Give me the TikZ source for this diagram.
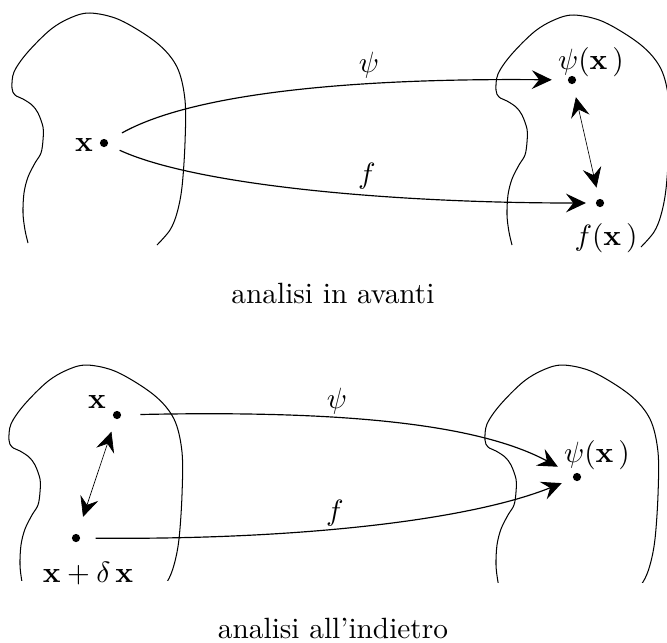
\documentclass[tikz,border=0pt]{standalone}
\usetikzlibrary{arrows.meta}
\tikzset{
  blobline/.style={line width=0.35pt},
  dot/.style={circle,fill=black,inner sep=0pt,minimum size=2.8pt},
  lab/.style={inner sep=0pt},
  bigtip/.tip={Stealth[length=6.8pt,width=6.4pt,inset=2.5pt]},
  maparrow/.style={line width=0.4pt,-bigtip},
  errarrow/.style={line width=0.22pt,bigtip-bigtip},
  blob/.pic={
    \draw[blobline] plot[smooth,tension=0.55] coordinates {
      (28,243) (25,230) (23,213) (24,193) (28,177) (35,163) (41,153) (43,140)
      (43,127) (38,113) (32,105) (23,99) (15,95) (12,88) (14,72) (27,53)
      (50,30) (70,18) (90,13) (120,20) (157,43) (177,67)
      (185,100) (185,143) (182,187) (177,213) (170,230) (157,245)};
  }
}
\begin{document}
\begin{tikzpicture}[x=0.341pt,y=-0.341pt]
\useasboundingbox (0,0) rectangle (667,642);

% regions
\pic at (0,0) {blob};
\pic at (484,2) {blob};
\begin{scope}
  \clip (-10,352) rectangle (700,580);
  \pic at (-3,352) {blob};
\end{scope}
\begin{scope}
  \clip (-10,352) rectangle (700,582);
  \pic at (473,352) {blob};
\end{scope}

% ---- top: analisi in avanti ----
\node[dot] (xT) at (104,143) {};
\node[lab] (xTl) at (84,145) {$\mathbf{x}$};
\node[dot] (psiT) at (572,80) {};
\node[lab] (psiTl) at (591,62) {$\psi(\mathbf{x}\,)$};
\node[dot] (fT) at (600,203) {};
\node[lab] (fTl) at (606,238) {$f(\mathbf{x}\,)$};

\draw[maparrow,shorten <=5.4pt,shorten >=5.3pt] (xT) .. controls (195,92) and (360,78) .. (psiT);
\draw[maparrow,shorten <=4.3pt,shorten >=3.2pt] (xT) .. controls (195,185) and (390,203) .. (fT);
\draw[errarrow,shorten <=4.4pt,shorten >=3.8pt] (psiT) -- (fT);

\node[lab] (psiTa) at (369,65) {$\psi$};
\node[lab] (fTa) at (367,176) {$f$};

\node (capT) at (333,293) {analisi in avanti};

% ---- bottom: analisi all'indietro ----
\node[dot] (xB) at (117,415) {};
\node[lab] (xBl) at (97,402) {$\mathbf{x}$};
\node[dot] (xdB) at (76,538) {};
\node[lab] (xdBl) at (88,574) {$\mathbf{x}+\delta\,\mathbf{x}$};
\node[dot] (psiB) at (577,477) {};
\node[lab] (psiBl) at (597,455) {$\psi(\mathbf{x}\,)$};

\draw[maparrow,shorten <=6.4pt,shorten >=5.8pt] (xB) .. controls (350,410) and (480,425) .. (psiB);
\draw[maparrow,shorten <=5.1pt,shorten >=4pt] (xdB) .. controls (300,540) and (470,520) .. (psiB);
\draw[errarrow,shorten <=4.4pt,shorten >=6pt] (xB) -- (xdB);

\node[lab] (psiBa) at (337,401) {$\psi$};
\node[lab] (fBa) at (335,513) {$f$};

\node (capB) at (333,628) {analisi all'indietro};
\end{tikzpicture}
\end{document}
